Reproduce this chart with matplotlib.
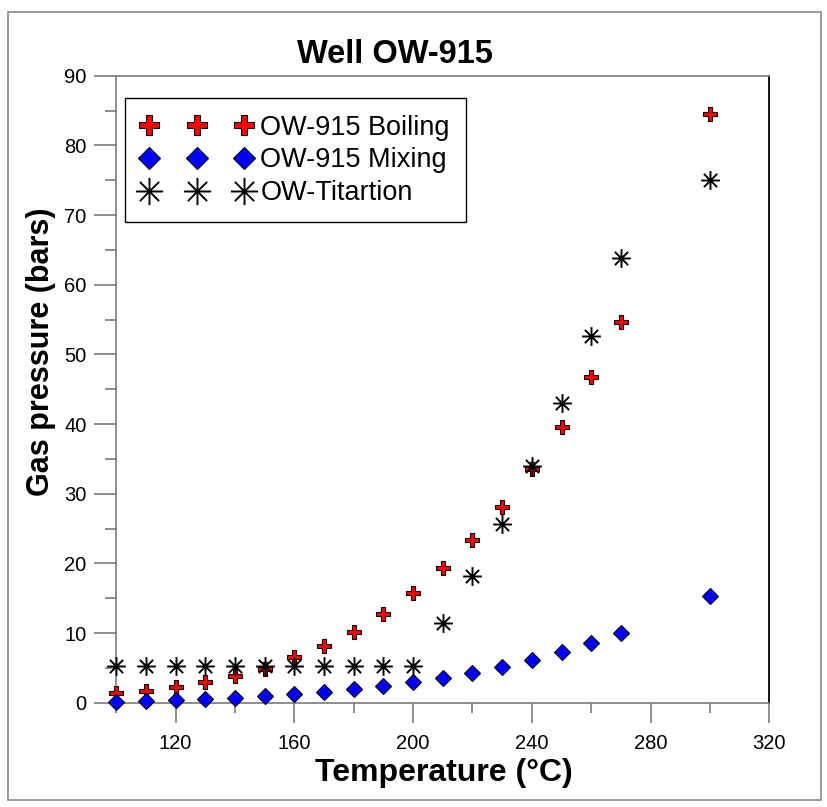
import matplotlib
matplotlib.use("Agg")
import matplotlib.pyplot as plt
from matplotlib.path import Path
from matplotlib.patches import Rectangle
import numpy as np

plt.rcParams['font.family'] = ['Liberation Sans', 'DejaVu Sans']

temps = [100, 110, 120, 130, 140, 150, 160, 170, 180, 190, 200,
         210, 220, 230, 240, 250, 260, 270, 300]
boiling = [1.35, 1.73, 2.2, 2.9, 3.8, 4.9, 6.5, 8.2, 10.2, 12.8, 15.8,
           19.3, 23.3, 28.1, 33.5, 39.6, 46.8, 54.7, 84.45]
mixing = [0.15, 0.2, 0.33, 0.57, 0.72, 0.96, 1.2, 1.49, 1.92, 2.4, 2.92,
          3.55, 4.26, 5.1, 6.1, 7.3, 8.6, 10.0, 15.3]
titration = [5.2, 5.2, 5.2, 5.2, 5.2, 5.2, 5.3, 5.3, 5.3, 5.3, 5.3,
             11.5, 18.2, 25.6, 34.0, 43.0, 52.6, 63.8, 75.1]

labels = ["OW-915 Boiling", "OW-915 Mixing", "OW-Titartion"]
xticks_major = [120, 160, 200, 240, 280, 320]
xticks_minor = [100, 140, 180, 220, 260, 300]
yticks_major = list(range(0, 100, 10))
yticks_minor = list(range(5, 90, 10))

W, H = 827, 807
fig = plt.figure(figsize=(W / 100, H / 100), dpi=100)

def fx(px):
    return px / W

def fy(py):
    return 1 - py / H

left, right, top, bottom = 116.3, 769.3, 75.7, 702.7
ax = fig.add_axes([fx(left), fy(bottom), fx(right) - fx(left), fy(top) - fy(bottom)])

# asterisk marker (8 arms)
c = np.cos(np.pi / 4)
verts = [(-1, 0), (1, 0), (0, -1), (0, 1), (-c, -c), (c, c), (-c, c), (c, -c)]
codes = [Path.MOVETO, Path.LINETO] * 4
star = Path(verts, codes)

ax.plot(temps, boiling, linestyle='none', marker='P', markersize=9.5,
        markerfacecolor='#ff0000', markeredgecolor='#000000', markeredgewidth=0.8,
        label=labels[0], clip_on=False, zorder=3)
ax.plot(temps, mixing, linestyle='none', marker='D', markersize=8,
        markerfacecolor='#0000ff', markeredgecolor='#000000', markeredgewidth=0.8,
        label=labels[1], clip_on=False, zorder=3)
ax.plot(temps, titration, linestyle='none', marker=star, markersize=13.5,
        markerfacecolor='none', markeredgecolor='#000000', markeredgewidth=1.4,
        label=labels[2], clip_on=False, zorder=4)

ax.set_xlim(100, 320)
ax.set_ylim(0, 90)
ax.set_xticks(xticks_major)
ax.set_xticks(xticks_minor, minor=True)
ax.set_yticks(yticks_major)
ax.set_yticks(yticks_minor, minor=True)

gray = '#7a7a7a'
ax.tick_params(axis='both', which='major', direction='out', color=gray,
               width=1.2, labelsize=14.5, labelcolor='black')
ax.tick_params(axis='y', which='major', length=15.5, pad=6)
ax.tick_params(axis='y', which='minor', direction='out', length=8, width=1.2, color=gray)
ax.tick_params(axis='x', which='major', length=14.5, pad=8)
ax.tick_params(axis='x', which='minor', direction='out', length=7.5, width=1.2, color=gray)

for s in ['left', 'bottom', 'top']:
    ax.spines[s].set_color(gray)
    ax.spines[s].set_linewidth(1.2)
ax.spines['right'].set_color('black')
ax.spines['right'].set_linewidth(1.3)

leg = ax.legend(loc='upper left', bbox_to_anchor=(fx(125), fy(98.4)),
                bbox_transform=fig.transFigure, numpoints=3, fontsize=19.5,
                markerscale=1.45,
                handlelength=4.1, handletextpad=0.3, borderpad=0.6,
                labelspacing=0.25, borderaxespad=0, fancybox=False,
                framealpha=1, edgecolor='black')
leg.get_frame().set_linewidth(1.0)
leg.set_zorder(10)

fig.text(fx(395), fy(63.3), "Well OW-915", fontsize=23.5, fontweight='bold',
         ha='center', va='baseline')
fig.text(fx(443.5), fy(773), "Temperature (°C)", fontsize=23, fontweight='bold',
         ha='center', va='center')
fig.text(fx(41), fy(352), "Gas pressure (bars)", fontsize=22, fontweight='bold',
         ha='center', va='center', rotation=90)

fig.patches.append(Rectangle((fx(8), fy(800)), fx(821) - fx(8), fy(12) - fy(800),
                             transform=fig.transFigure, fill=False,
                             edgecolor='#8a8a8a', linewidth=1.2))

fig.savefig("out.png", dpi=100)
